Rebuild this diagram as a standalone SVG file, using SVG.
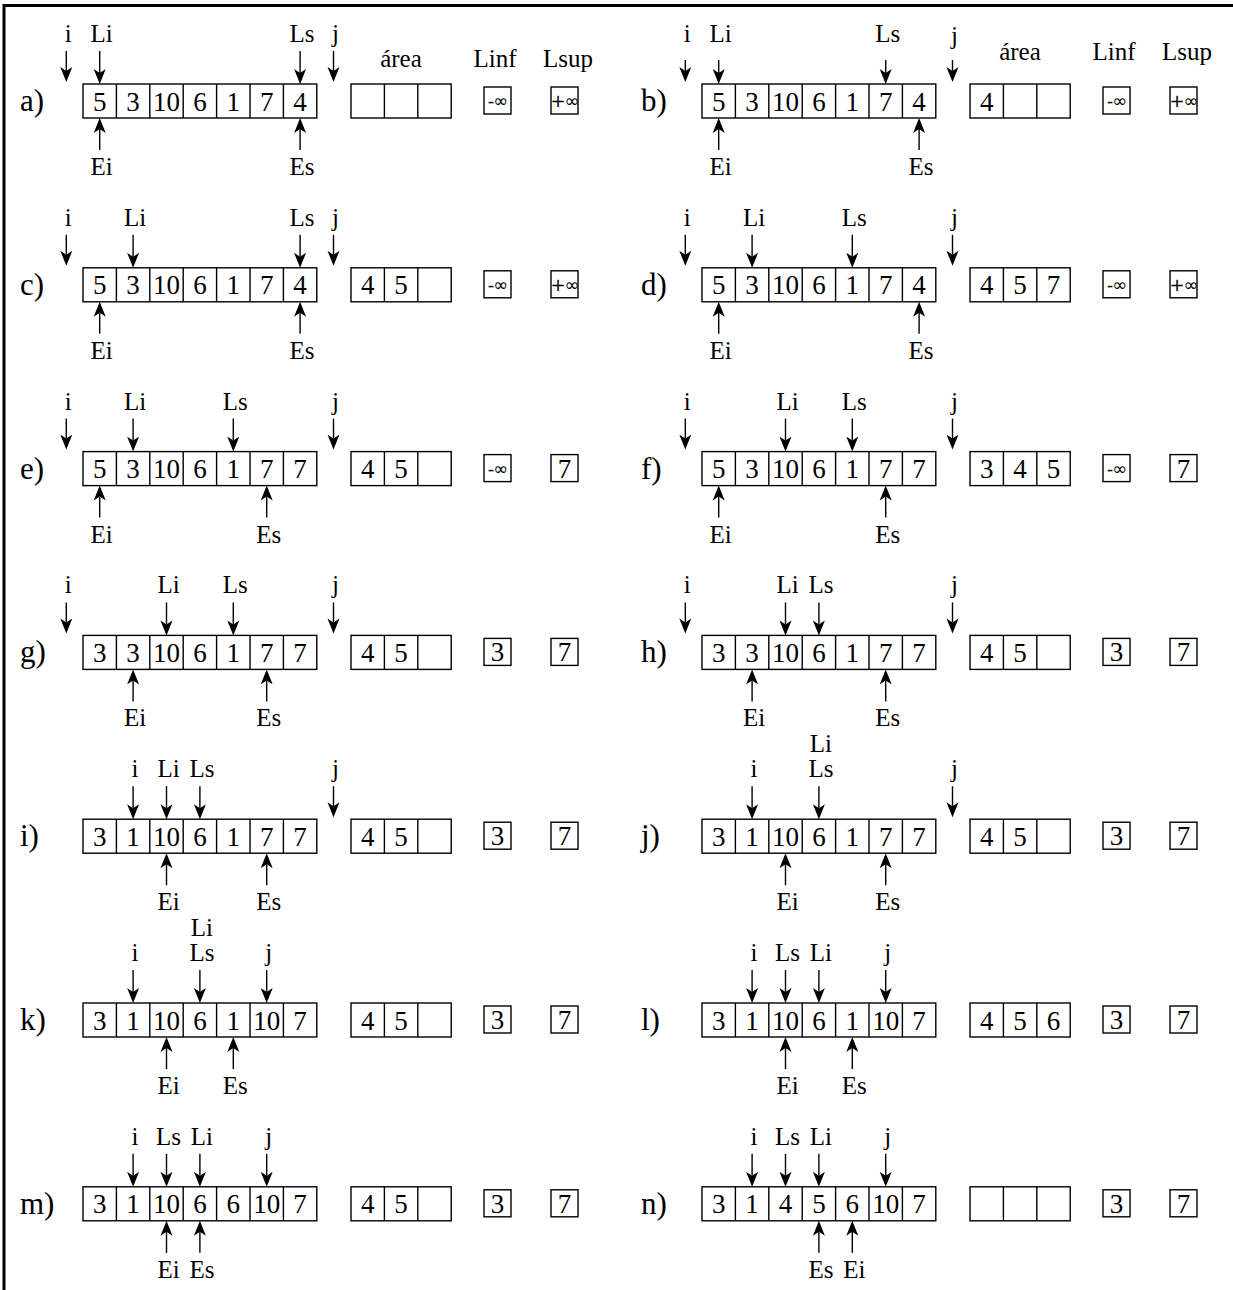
<svg xmlns="http://www.w3.org/2000/svg" width="1233" height="1290" viewBox="0 0 1233 1290">
<style>
.box{fill:none;stroke:#000;stroke-width:1.4}
.div{fill:none;stroke:#000;stroke-width:1.4}
.v{font-family:"Liberation Serif",serif;font-size:27px;text-anchor:middle}
.lb{font-family:"Liberation Serif",serif;font-size:25px;text-anchor:middle}
.rl{font-family:"Liberation Serif",serif;font-size:31px}
.inf{font-family:"DejaVu Sans",sans-serif;font-size:18px;text-anchor:middle;letter-spacing:-1px}
.ar{fill:none;stroke:#000;stroke-width:1.4;marker-end:url(#ah)}
.frame{fill:none;stroke:#000;stroke-width:3}
</style>
<defs>
<marker id="ah" markerUnits="userSpaceOnUse" markerWidth="18" markerHeight="14" viewBox="0 -7 18 14" refX="4" refY="0" orient="auto"><path d="M0,-6 L15,0 L0,6 L4,0 Z" fill="#000"/></marker>
<g id="arr7"><rect class="box" x="83" y="-17" width="233.8" height="34"/><path class="div" d="M116.4,-17v34M149.8,-17v34M183.2,-17v34M216.6,-17v34M250,-17v34M283.4,-17v34"/></g>
<g id="area3"><rect class="box" x="351" y="-17" width="100.2" height="34"/><path class="div" d="M384.4,-17v34M417.8,-17v34"/></g>
<g id="bxinf"><rect class="box" x="484" y="-14" width="27" height="27"/></g>
<g id="bxsup"><rect class="box" x="551" y="-14" width="27" height="27"/></g>
</defs>
<path class="frame" d="M4,1290V5.5H1233"/>

<g id="row-a" transform="translate(0,101)">
<text class="rl" x="20" y="10">a)</text>
<use href="#arr7"/><use href="#area3"/><use href="#bxinf"/><use href="#bxsup"/>
<text class="v" x="99.7" y="9.5">5</text><text class="v" x="133.1" y="9.5">3</text><text class="v" x="166.5" y="9.5">10</text><text class="v" x="199.9" y="9.5">6</text><text class="v" x="233.3" y="9.5">1</text><text class="v" x="266.7" y="9.5">7</text><text class="v" x="300.1" y="9.5">4</text>
<text class="inf" x="497.5" y="6">-∞</text><text class="inf" x="564.5" y="6">+∞</text>
<text class="lb" x="401" y="-34">área</text><text class="lb" x="495" y="-34">Linf</text><text class="lb" x="568" y="-34">Lsup</text>
<g transform="translate(2,0)"><text class="lb" x="66.3" y="-59">i</text><text class="lb" x="99.7" y="-59">Li</text><text class="lb" x="300.1" y="-59">Ls</text><text class="lb" x="333.5" y="-59">j</text>
<text class="lb" x="99.7" y="74">Ei</text><text class="lb" x="300.1" y="74">Es</text></g>
</g>
<g id="row-b" transform="translate(619,101)">
<text class="rl" x="22" y="10">b)</text>
<use href="#arr7"/><use href="#area3"/><use href="#bxinf"/><use href="#bxsup"/>
<text class="v" x="99.7" y="9.5">5</text><text class="v" x="133.1" y="9.5">3</text><text class="v" x="166.5" y="9.5">10</text><text class="v" x="199.9" y="9.5">6</text><text class="v" x="233.3" y="9.5">1</text><text class="v" x="266.7" y="9.5">7</text><text class="v" x="300.1" y="9.5">4</text>
<text class="v" x="367.7" y="9.5">4</text>
<text class="inf" x="497.5" y="6">-∞</text><text class="inf" x="564.5" y="6">+∞</text>
<text class="lb" x="401" y="-41">área</text><text class="lb" x="495" y="-41">Linf</text><text class="lb" x="568" y="-41">Lsup</text>
<g transform="translate(2,0)"><text class="lb" x="66.3" y="-59">i</text><text class="lb" x="99.7" y="-59">Li</text><text class="lb" x="266.7" y="-59">Ls</text><text class="lb" x="333.5" y="-57">j</text>
<text class="lb" x="99.7" y="74">Ei</text><text class="lb" x="300.1" y="74">Es</text></g>
</g>
<g id="row-c" transform="translate(0,284.8)">
<text class="rl" x="20" y="10">c)</text>
<use href="#arr7"/><use href="#area3"/><use href="#bxinf"/><use href="#bxsup"/>
<text class="v" x="99.7" y="9.5">5</text><text class="v" x="133.1" y="9.5">3</text><text class="v" x="166.5" y="9.5">10</text><text class="v" x="199.9" y="9.5">6</text><text class="v" x="233.3" y="9.5">1</text><text class="v" x="266.7" y="9.5">7</text><text class="v" x="300.1" y="9.5">4</text>
<text class="v" x="367.7" y="9.5">4</text><text class="v" x="401.1" y="9.5">5</text>
<text class="inf" x="497.5" y="6">-∞</text><text class="inf" x="564.5" y="6">+∞</text>
<g transform="translate(2,0)"><text class="lb" x="66.3" y="-59">i</text><text class="lb" x="133.1" y="-59">Li</text><text class="lb" x="300.1" y="-59">Ls</text><text class="lb" x="333.5" y="-59">j</text>
<text class="lb" x="99.7" y="74">Ei</text><text class="lb" x="300.1" y="74">Es</text></g>
</g>
<g id="row-d" transform="translate(619,284.8)">
<text class="rl" x="22" y="10">d)</text>
<use href="#arr7"/><use href="#area3"/><use href="#bxinf"/><use href="#bxsup"/>
<text class="v" x="99.7" y="9.5">5</text><text class="v" x="133.1" y="9.5">3</text><text class="v" x="166.5" y="9.5">10</text><text class="v" x="199.9" y="9.5">6</text><text class="v" x="233.3" y="9.5">1</text><text class="v" x="266.7" y="9.5">7</text><text class="v" x="300.1" y="9.5">4</text>
<text class="v" x="367.7" y="9.5">4</text><text class="v" x="401.1" y="9.5">5</text><text class="v" x="434.5" y="9.5">7</text>
<text class="inf" x="497.5" y="6">-∞</text><text class="inf" x="564.5" y="6">+∞</text>
<g transform="translate(2,0)"><text class="lb" x="66.3" y="-59">i</text><text class="lb" x="133.1" y="-59">Li</text><text class="lb" x="233.3" y="-59">Ls</text><text class="lb" x="333.5" y="-59">j</text>
<text class="lb" x="99.7" y="74">Ei</text><text class="lb" x="300.1" y="74">Es</text></g>
</g>
<g id="row-e" transform="translate(0,468.6)">
<text class="rl" x="20" y="10">e)</text>
<use href="#arr7"/><use href="#area3"/><use href="#bxinf"/><use href="#bxsup"/>
<text class="v" x="99.7" y="9.5">5</text><text class="v" x="133.1" y="9.5">3</text><text class="v" x="166.5" y="9.5">10</text><text class="v" x="199.9" y="9.5">6</text><text class="v" x="233.3" y="9.5">1</text><text class="v" x="266.7" y="9.5">7</text><text class="v" x="300.1" y="9.5">7</text>
<text class="v" x="367.7" y="9.5">4</text><text class="v" x="401.1" y="9.5">5</text>
<text class="inf" x="497.5" y="6">-∞</text><text class="v" x="564.5" y="9">7</text>
<g transform="translate(2,0)"><text class="lb" x="66.3" y="-59">i</text><text class="lb" x="133.1" y="-59">Li</text><text class="lb" x="233.3" y="-59">Ls</text><text class="lb" x="333.5" y="-59">j</text>
<text class="lb" x="99.7" y="74">Ei</text><text class="lb" x="266.7" y="74">Es</text></g>
</g>
<g id="row-f" transform="translate(619,468.6)">
<text class="rl" x="22" y="10">f)</text>
<use href="#arr7"/><use href="#area3"/><use href="#bxinf"/><use href="#bxsup"/>
<text class="v" x="99.7" y="9.5">5</text><text class="v" x="133.1" y="9.5">3</text><text class="v" x="166.5" y="9.5">10</text><text class="v" x="199.9" y="9.5">6</text><text class="v" x="233.3" y="9.5">1</text><text class="v" x="266.7" y="9.5">7</text><text class="v" x="300.1" y="9.5">7</text>
<text class="v" x="367.7" y="9.5">3</text><text class="v" x="401.1" y="9.5">4</text><text class="v" x="434.5" y="9.5">5</text>
<text class="inf" x="497.5" y="6">-∞</text><text class="v" x="564.5" y="9">7</text>
<g transform="translate(2,0)"><text class="lb" x="66.3" y="-59">i</text><text class="lb" x="166.5" y="-59">Li</text><text class="lb" x="233.3" y="-59">Ls</text><text class="lb" x="333.5" y="-59">j</text>
<text class="lb" x="99.7" y="74">Ei</text><text class="lb" x="266.7" y="74">Es</text></g>
</g>
<g id="row-g" transform="translate(0,652.4)">
<text class="rl" x="20" y="10">g)</text>
<use href="#arr7"/><use href="#area3"/><use href="#bxinf"/><use href="#bxsup"/>
<text class="v" x="99.7" y="9.5">3</text><text class="v" x="133.1" y="9.5">3</text><text class="v" x="166.5" y="9.5">10</text><text class="v" x="199.9" y="9.5">6</text><text class="v" x="233.3" y="9.5">1</text><text class="v" x="266.7" y="9.5">7</text><text class="v" x="300.1" y="9.5">7</text>
<text class="v" x="367.7" y="9.5">4</text><text class="v" x="401.1" y="9.5">5</text>
<text class="v" x="497.5" y="9">3</text><text class="v" x="564.5" y="9">7</text>
<g transform="translate(2,0)"><text class="lb" x="66.3" y="-59">i</text><text class="lb" x="166.5" y="-59">Li</text><text class="lb" x="233.3" y="-59">Ls</text><text class="lb" x="333.5" y="-59">j</text>
<text class="lb" x="133.1" y="74">Ei</text><text class="lb" x="266.7" y="74">Es</text></g>
</g>
<g id="row-h" transform="translate(619,652.4)">
<text class="rl" x="22" y="10">h)</text>
<use href="#arr7"/><use href="#area3"/><use href="#bxinf"/><use href="#bxsup"/>
<text class="v" x="99.7" y="9.5">3</text><text class="v" x="133.1" y="9.5">3</text><text class="v" x="166.5" y="9.5">10</text><text class="v" x="199.9" y="9.5">6</text><text class="v" x="233.3" y="9.5">1</text><text class="v" x="266.7" y="9.5">7</text><text class="v" x="300.1" y="9.5">7</text>
<text class="v" x="367.7" y="9.5">4</text><text class="v" x="401.1" y="9.5">5</text>
<text class="v" x="497.5" y="9">3</text><text class="v" x="564.5" y="9">7</text>
<g transform="translate(2,0)"><text class="lb" x="66.3" y="-59">i</text><text class="lb" x="166.5" y="-59">Li</text><text class="lb" x="199.9" y="-59">Ls</text><text class="lb" x="333.5" y="-59">j</text>
<text class="lb" x="133.1" y="74">Ei</text><text class="lb" x="266.7" y="74">Es</text></g>
</g>
<g id="row-i" transform="translate(0,836.2)">
<text class="rl" x="20" y="10">i)</text>
<use href="#arr7"/><use href="#area3"/><use href="#bxinf"/><use href="#bxsup"/>
<text class="v" x="99.7" y="9.5">3</text><text class="v" x="133.1" y="9.5">1</text><text class="v" x="166.5" y="9.5">10</text><text class="v" x="199.9" y="9.5">6</text><text class="v" x="233.3" y="9.5">1</text><text class="v" x="266.7" y="9.5">7</text><text class="v" x="300.1" y="9.5">7</text>
<text class="v" x="367.7" y="9.5">4</text><text class="v" x="401.1" y="9.5">5</text>
<text class="v" x="497.5" y="9">3</text><text class="v" x="564.5" y="9">7</text>
<g transform="translate(2,0)"><text class="lb" x="133.1" y="-59">i</text><text class="lb" x="166.5" y="-59">Li</text><text class="lb" x="199.9" y="-59">Ls</text><text class="lb" x="333.5" y="-59">j</text>
<text class="lb" x="166.5" y="74">Ei</text><text class="lb" x="266.7" y="74">Es</text></g>
</g>
<g id="row-j" transform="translate(619,836.2)">
<text class="rl" x="22" y="10">j)</text>
<use href="#arr7"/><use href="#area3"/><use href="#bxinf"/><use href="#bxsup"/>
<text class="v" x="99.7" y="9.5">3</text><text class="v" x="133.1" y="9.5">1</text><text class="v" x="166.5" y="9.5">10</text><text class="v" x="199.9" y="9.5">6</text><text class="v" x="233.3" y="9.5">1</text><text class="v" x="266.7" y="9.5">7</text><text class="v" x="300.1" y="9.5">7</text>
<text class="v" x="367.7" y="9.5">4</text><text class="v" x="401.1" y="9.5">5</text>
<text class="v" x="497.5" y="9">3</text><text class="v" x="564.5" y="9">7</text>
<g transform="translate(2,0)"><text class="lb" x="133.1" y="-59">i</text><text class="lb" x="199.9" y="-84">Li</text><text class="lb" x="199.9" y="-59">Ls</text><text class="lb" x="333.5" y="-59">j</text>
<text class="lb" x="166.5" y="74">Ei</text><text class="lb" x="266.7" y="74">Es</text></g>
</g>
<g id="row-k" transform="translate(0,1020)">
<text class="rl" x="20" y="10">k)</text>
<use href="#arr7"/><use href="#area3"/><use href="#bxinf"/><use href="#bxsup"/>
<text class="v" x="99.7" y="9.5">3</text><text class="v" x="133.1" y="9.5">1</text><text class="v" x="166.5" y="9.5">10</text><text class="v" x="199.9" y="9.5">6</text><text class="v" x="233.3" y="9.5">1</text><text class="v" x="266.7" y="9.5">10</text><text class="v" x="300.1" y="9.5">7</text>
<text class="v" x="367.7" y="9.5">4</text><text class="v" x="401.1" y="9.5">5</text>
<text class="v" x="497.5" y="9">3</text><text class="v" x="564.5" y="9">7</text>
<g transform="translate(2,0)"><text class="lb" x="133.1" y="-59">i</text><text class="lb" x="199.9" y="-84">Li</text><text class="lb" x="199.9" y="-59">Ls</text><text class="lb" x="266.7" y="-59">j</text>
<text class="lb" x="166.5" y="74">Ei</text><text class="lb" x="233.3" y="74">Es</text></g>
</g>
<g id="row-l" transform="translate(619,1020)">
<text class="rl" x="22" y="10">l)</text>
<use href="#arr7"/><use href="#area3"/><use href="#bxinf"/><use href="#bxsup"/>
<text class="v" x="99.7" y="9.5">3</text><text class="v" x="133.1" y="9.5">1</text><text class="v" x="166.5" y="9.5">10</text><text class="v" x="199.9" y="9.5">6</text><text class="v" x="233.3" y="9.5">1</text><text class="v" x="266.7" y="9.5">10</text><text class="v" x="300.1" y="9.5">7</text>
<text class="v" x="367.7" y="9.5">4</text><text class="v" x="401.1" y="9.5">5</text><text class="v" x="434.5" y="9.5">6</text>
<text class="v" x="497.5" y="9">3</text><text class="v" x="564.5" y="9">7</text>
<g transform="translate(2,0)"><text class="lb" x="133.1" y="-59">i</text><text class="lb" x="166.5" y="-59">Ls</text><text class="lb" x="199.9" y="-59">Li</text><text class="lb" x="266.7" y="-59">j</text>
<text class="lb" x="166.5" y="74">Ei</text><text class="lb" x="233.3" y="74">Es</text></g>
</g>
<g id="row-m" transform="translate(0,1203.8)">
<text class="rl" x="20" y="10">m)</text>
<use href="#arr7"/><use href="#area3"/><use href="#bxinf"/><use href="#bxsup"/>
<text class="v" x="99.7" y="9.5">3</text><text class="v" x="133.1" y="9.5">1</text><text class="v" x="166.5" y="9.5">10</text><text class="v" x="199.9" y="9.5">6</text><text class="v" x="233.3" y="9.5">6</text><text class="v" x="266.7" y="9.5">10</text><text class="v" x="300.1" y="9.5">7</text>
<text class="v" x="367.7" y="9.5">4</text><text class="v" x="401.1" y="9.5">5</text>
<text class="v" x="497.5" y="9">3</text><text class="v" x="564.5" y="9">7</text>
<g transform="translate(2,0)"><text class="lb" x="133.1" y="-59">i</text><text class="lb" x="166.5" y="-59">Ls</text><text class="lb" x="199.9" y="-59">Li</text><text class="lb" x="266.7" y="-59">j</text>
<text class="lb" x="166.5" y="74">Ei</text><text class="lb" x="199.9" y="74">Es</text></g>
</g>
<g id="row-n" transform="translate(619,1203.8)">
<text class="rl" x="22" y="10">n)</text>
<use href="#arr7"/><use href="#area3"/><use href="#bxinf"/><use href="#bxsup"/>
<text class="v" x="99.7" y="9.5">3</text><text class="v" x="133.1" y="9.5">1</text><text class="v" x="166.5" y="9.5">4</text><text class="v" x="199.9" y="9.5">5</text><text class="v" x="233.3" y="9.5">6</text><text class="v" x="266.7" y="9.5">10</text><text class="v" x="300.1" y="9.5">7</text>
<text class="v" x="497.5" y="9">3</text><text class="v" x="564.5" y="9">7</text>
<g transform="translate(2,0)"><text class="lb" x="133.1" y="-59">i</text><text class="lb" x="166.5" y="-59">Ls</text><text class="lb" x="199.9" y="-59">Li</text><text class="lb" x="266.7" y="-59">j</text>
<text class="lb" x="199.9" y="74">Es</text><text class="lb" x="233.3" y="74">Ei</text></g>
</g>

<g id="connectors">
<g transform="translate(0,101)">
<line class="ar" x1="66.3" y1="-50" x2="66.3" y2="-30"/><line class="ar" x1="99.7" y1="-50" x2="99.7" y2="-28"/><line class="ar" x1="300.1" y1="-50" x2="300.1" y2="-28"/><line class="ar" x1="333.5" y1="-50" x2="333.5" y2="-30"/>
<line class="ar" x1="99.7" y1="49" x2="99.7" y2="28"/><line class="ar" x1="300.1" y1="49" x2="300.1" y2="28"/>
</g>
<g transform="translate(619,101)">
<line class="ar" x1="66.3" y1="-41" x2="66.3" y2="-30"/><line class="ar" x1="99.7" y1="-41" x2="99.7" y2="-28"/><line class="ar" x1="266.7" y1="-41" x2="266.7" y2="-28"/><line class="ar" x1="333.5" y1="-41" x2="333.5" y2="-30"/>
<line class="ar" x1="99.7" y1="49" x2="99.7" y2="28"/><line class="ar" x1="300.1" y1="49" x2="300.1" y2="28"/>
</g>
<g transform="translate(0,284.8)">
<line class="ar" x1="66.3" y1="-50" x2="66.3" y2="-30"/><line class="ar" x1="133.1" y1="-50" x2="133.1" y2="-28"/><line class="ar" x1="300.1" y1="-50" x2="300.1" y2="-28"/><line class="ar" x1="333.5" y1="-50" x2="333.5" y2="-30"/>
<line class="ar" x1="99.7" y1="49" x2="99.7" y2="28"/><line class="ar" x1="300.1" y1="49" x2="300.1" y2="28"/>
</g>
<g transform="translate(619,284.8)">
<line class="ar" x1="66.3" y1="-50" x2="66.3" y2="-30"/><line class="ar" x1="133.1" y1="-50" x2="133.1" y2="-28"/><line class="ar" x1="233.3" y1="-50" x2="233.3" y2="-28"/><line class="ar" x1="333.5" y1="-50" x2="333.5" y2="-30"/>
<line class="ar" x1="99.7" y1="49" x2="99.7" y2="28"/><line class="ar" x1="300.1" y1="49" x2="300.1" y2="28"/>
</g>
<g transform="translate(0,468.6)">
<line class="ar" x1="66.3" y1="-50" x2="66.3" y2="-30"/><line class="ar" x1="133.1" y1="-50" x2="133.1" y2="-28"/><line class="ar" x1="233.3" y1="-50" x2="233.3" y2="-28"/><line class="ar" x1="333.5" y1="-50" x2="333.5" y2="-30"/>
<line class="ar" x1="99.7" y1="49" x2="99.7" y2="28"/><line class="ar" x1="266.7" y1="49" x2="266.7" y2="28"/>
</g>
<g transform="translate(619,468.6)">
<line class="ar" x1="66.3" y1="-50" x2="66.3" y2="-30"/><line class="ar" x1="166.5" y1="-50" x2="166.5" y2="-28"/><line class="ar" x1="233.3" y1="-50" x2="233.3" y2="-28"/><line class="ar" x1="333.5" y1="-50" x2="333.5" y2="-30"/>
<line class="ar" x1="99.7" y1="49" x2="99.7" y2="28"/><line class="ar" x1="266.7" y1="49" x2="266.7" y2="28"/>
</g>
<g transform="translate(0,652.4)">
<line class="ar" x1="66.3" y1="-50" x2="66.3" y2="-30"/><line class="ar" x1="166.5" y1="-50" x2="166.5" y2="-28"/><line class="ar" x1="233.3" y1="-50" x2="233.3" y2="-28"/><line class="ar" x1="333.5" y1="-50" x2="333.5" y2="-30"/>
<line class="ar" x1="133.1" y1="49" x2="133.1" y2="28"/><line class="ar" x1="266.7" y1="49" x2="266.7" y2="28"/>
</g>
<g transform="translate(619,652.4)">
<line class="ar" x1="66.3" y1="-50" x2="66.3" y2="-30"/><line class="ar" x1="166.5" y1="-50" x2="166.5" y2="-28"/><line class="ar" x1="199.9" y1="-50" x2="199.9" y2="-28"/><line class="ar" x1="333.5" y1="-50" x2="333.5" y2="-30"/>
<line class="ar" x1="133.1" y1="49" x2="133.1" y2="28"/><line class="ar" x1="266.7" y1="49" x2="266.7" y2="28"/>
</g>
<g transform="translate(0,836.2)">
<line class="ar" x1="133.1" y1="-50" x2="133.1" y2="-28"/><line class="ar" x1="166.5" y1="-50" x2="166.5" y2="-28"/><line class="ar" x1="199.9" y1="-50" x2="199.9" y2="-28"/><line class="ar" x1="333.5" y1="-50" x2="333.5" y2="-30"/>
<line class="ar" x1="166.5" y1="49" x2="166.5" y2="28"/><line class="ar" x1="266.7" y1="49" x2="266.7" y2="28"/>
</g>
<g transform="translate(619,836.2)">
<line class="ar" x1="133.1" y1="-50" x2="133.1" y2="-28"/><line class="ar" x1="199.9" y1="-50" x2="199.9" y2="-28"/><line class="ar" x1="333.5" y1="-50" x2="333.5" y2="-30"/>
<line class="ar" x1="166.5" y1="49" x2="166.5" y2="28"/><line class="ar" x1="266.7" y1="49" x2="266.7" y2="28"/>
</g>
<g transform="translate(0,1020)">
<line class="ar" x1="133.1" y1="-50" x2="133.1" y2="-28"/><line class="ar" x1="199.9" y1="-50" x2="199.9" y2="-28"/><line class="ar" x1="266.7" y1="-50" x2="266.7" y2="-28"/>
<line class="ar" x1="166.5" y1="49" x2="166.5" y2="28"/><line class="ar" x1="233.3" y1="49" x2="233.3" y2="28"/>
</g>
<g transform="translate(619,1020)">
<line class="ar" x1="133.1" y1="-50" x2="133.1" y2="-28"/><line class="ar" x1="166.5" y1="-50" x2="166.5" y2="-28"/><line class="ar" x1="199.9" y1="-50" x2="199.9" y2="-28"/><line class="ar" x1="266.7" y1="-50" x2="266.7" y2="-28"/>
<line class="ar" x1="166.5" y1="49" x2="166.5" y2="28"/><line class="ar" x1="233.3" y1="49" x2="233.3" y2="28"/>
</g>
<g transform="translate(0,1203.8)">
<line class="ar" x1="133.1" y1="-50" x2="133.1" y2="-28"/><line class="ar" x1="166.5" y1="-50" x2="166.5" y2="-28"/><line class="ar" x1="199.9" y1="-50" x2="199.9" y2="-28"/><line class="ar" x1="266.7" y1="-50" x2="266.7" y2="-28"/>
<line class="ar" x1="166.5" y1="49" x2="166.5" y2="28"/><line class="ar" x1="199.9" y1="49" x2="199.9" y2="28"/>
</g>
<g transform="translate(619,1203.8)">
<line class="ar" x1="133.1" y1="-50" x2="133.1" y2="-28"/><line class="ar" x1="166.5" y1="-50" x2="166.5" y2="-28"/><line class="ar" x1="199.9" y1="-50" x2="199.9" y2="-28"/><line class="ar" x1="266.7" y1="-50" x2="266.7" y2="-28"/>
<line class="ar" x1="199.9" y1="49" x2="199.9" y2="28"/><line class="ar" x1="233.3" y1="49" x2="233.3" y2="28"/>
</g>
</g>
</svg>
